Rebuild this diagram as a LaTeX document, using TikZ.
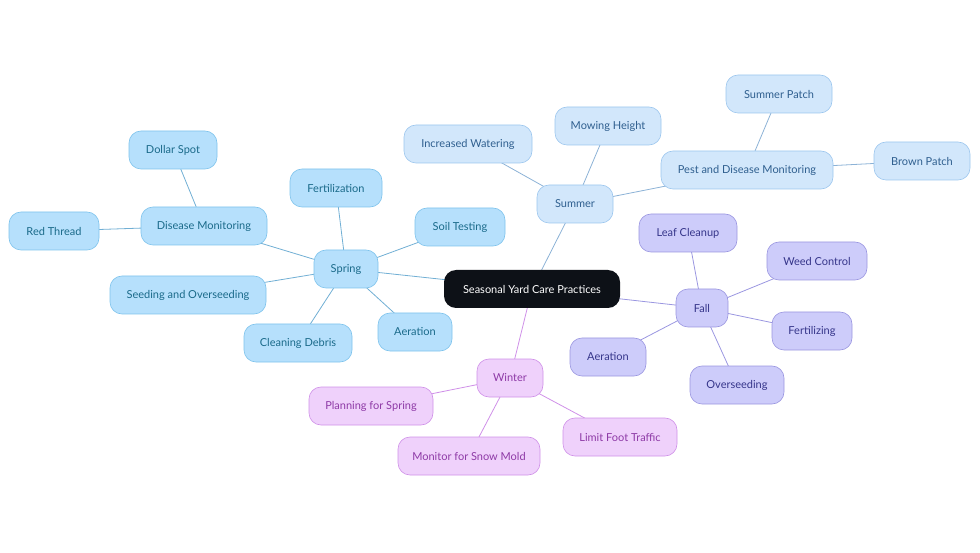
\documentclass[tikz,border=0pt]{standalone}
\usepackage{fontspec}
\setmainfont{Lato}
\definecolor{rootc}{HTML}{0D1117}
\definecolor{spf}{HTML}{B6E0FC}\definecolor{spd}{HTML}{7EC3EC}\definecolor{spt}{HTML}{1A6A8A}
\definecolor{suf}{HTML}{D2E7FB}\definecolor{sud}{HTML}{9CC6EE}\definecolor{sut}{HTML}{2F5F8F}
\definecolor{faf}{HTML}{CDCCFA}\definecolor{fad}{HTML}{9A96E0}\definecolor{fat}{HTML}{35358A}
\definecolor{wif}{HTML}{EFD1FB}\definecolor{wid}{HTML}{CF90E8}\definecolor{wit}{HTML}{8E3AA6}
\tikzset{
 base/.style={rounded corners=12pt,minimum height=38pt,inner xsep=6pt,font=\fontsize{11}{13}\selectfont,line width=0.6pt},
 sp/.style={base,fill=spf,draw=spd,text=spt},
 su/.style={base,fill=suf,draw=sud,text=sut},
 fa/.style={base,fill=faf,draw=fad,text=fat},
 wi/.style={base,fill=wif,draw=wid,text=wit},
 spe/.style={draw=spd!90!black,line width=0.8pt},
 sue/.style={draw=sud!90!black,line width=0.8pt},
 fae/.style={draw=fad,line width=0.8pt},
 wie/.style={draw=wid,line width=0.8pt},
}
\begin{document}
\begin{tikzpicture}[x=1pt,y=-1pt]
\useasboundingbox (0,0) rectangle (980,553);
\coordinate (root) at (532,289);
\coordinate (spring) at (346,269);
\coordinate (fert) at (336,188);
\coordinate (soil) at (460,227);
\coordinate (aer1) at (415,332);
\coordinate (clean) at (298,343);
\coordinate (seed) at (188,295);
\coordinate (dis) at (204,226);
\coordinate (dollar) at (173,150);
\coordinate (red) at (54,231);
\coordinate (summer) at (575,204);
\coordinate (water) at (468,144);
\coordinate (mow) at (608,126);
\coordinate (pest) at (747,170);
\coordinate (spatch) at (779,94);
\coordinate (brown) at (922,161);
\coordinate (fall) at (702,308);
\coordinate (leaf) at (688,233);
\coordinate (weed) at (817,261);
\coordinate (fertz) at (812,331);
\coordinate (over) at (737,385);
\coordinate (aer2) at (608,357);
\coordinate (winter) at (510,378);
\coordinate (plan) at (371,406);
\coordinate (snow) at (469,456);
\coordinate (foot) at (620,437);
\draw[spe] (root)--(spring);
\foreach \n in {fert,soil,aer1,clean,seed,dis} \draw[spe] (spring)--(\n);
\draw[spe] (dis)--(dollar);
\draw[spe] (dis)--(red);
\draw[sue] (root)--(summer);
\foreach \n in {water,mow,pest} \draw[sue] (summer)--(\n);
\draw[sue] (pest)--(spatch);
\draw[sue] (pest)--(brown);
\draw[fae] (root)--(fall);
\foreach \n in {leaf,weed,fertz,over,aer2} \draw[fae] (fall)--(\n);
\draw[wie] (root)--(winter);
\foreach \n in {plan,snow,foot} \draw[wie] (winter)--(\n);
\node[base,fill=rootc,text=white,minimum width=176pt] (rootn) at (root) {Seasonal Yard Care Practices};
\node[sp,minimum width=64pt] (springn) at (spring) {Spring};
\node[sp,minimum width=92pt] (fertn) at (fert) {Fertilization};
\node[sp,minimum width=90pt] (soiln) at (soil) {Soil Testing};
\node[sp,minimum width=74pt] (aer1n) at (aer1) {Aeration};
\node[sp,minimum width=108pt] (cleann) at (clean) {Cleaning Debris};
\node[sp,minimum width=156pt] (seedn) at (seed) {Seeding and Overseeding};
\node[sp,minimum width=126pt] (disn) at (dis) {Disease Monitoring};
\node[sp,minimum width=88pt] (dollarn) at (dollar) {Dollar Spot};
\node[sp,minimum width=90pt] (redn) at (red) {Red Thread};
\node[su,minimum width=76pt] (summern) at (summer) {Summer};
\node[su,minimum width=128pt] (watern) at (water) {Increased Watering};
\node[su,minimum width=106pt] (mown) at (mow) {Mowing Height};
\node[su,minimum width=172pt] (pestn) at (pest) {Pest and Disease Monitoring};
\node[su,minimum width=106pt] (spatchn) at (spatch) {Summer Patch};
\node[su,minimum width=96pt] (brownn) at (brown) {Brown Patch};
\node[fa,minimum width=52pt] (falln) at (fall) {Fall};
\node[fa,minimum width=98pt] (leafn) at (leaf) {Leaf Cleanup};
\node[fa,minimum width=100pt] (weedn) at (weed) {Weed Control};
\node[fa,minimum width=80pt] (fertzn) at (fertz) {Fertilizing};
\node[fa,minimum width=94pt] (overn) at (over) {Overseeding};
\node[fa,minimum width=76pt] (aer2n) at (aer2) {Aeration};
\node[wi,minimum width=66pt] (wintern) at (winter) {Winter};
\node[wi,minimum width=124pt] (plann) at (plan) {Planning for Spring};
\node[wi,minimum width=142pt] (snown) at (snow) {Monitor for Snow Mold};
\node[wi,minimum width=114pt] (footn) at (foot) {Limit Foot Traffic};
\end{tikzpicture}
\end{document}
